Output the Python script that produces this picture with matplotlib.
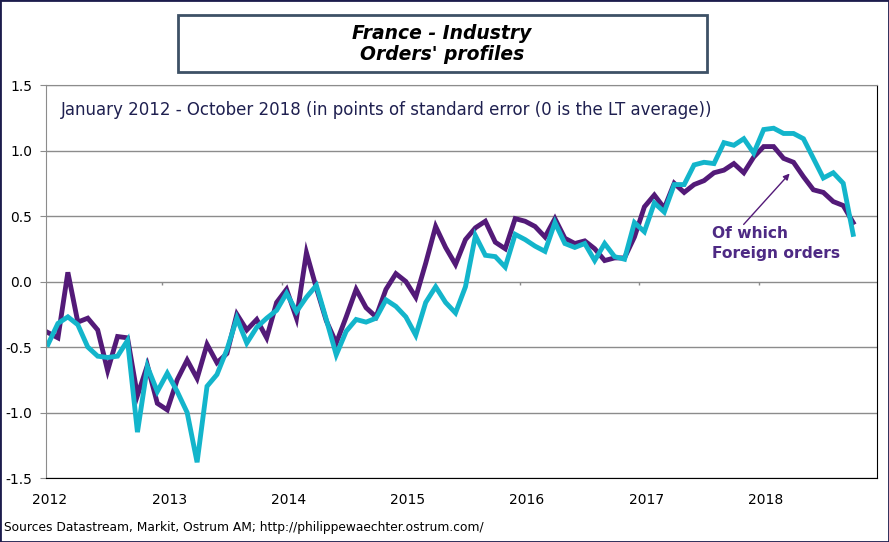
import numpy as np
import matplotlib
matplotlib.use('Agg')
import matplotlib.pyplot as plt
from matplotlib.patches import Rectangle

# monthly values, Jan 2012 - Oct 2018
years = ['2012', '2013', '2014', '2015', '2016', '2017', '2018']
foreign = [-0.39, -0.43, 0.07, -0.31, -0.28, -0.37, -0.68, -0.42, -0.43, -0.87,
           -0.64, -0.93, -0.98, -0.75, -0.60, -0.74, -0.48, -0.62, -0.55, -0.25,
           -0.37, -0.29, -0.43, -0.16, -0.06, -0.28, 0.22, -0.05, -0.30, -0.47,
           -0.27, -0.06, -0.20, -0.27, -0.06, 0.06, 0.00, -0.12, 0.14, 0.42,
           0.26, 0.13, 0.32, 0.41, 0.46, 0.30, 0.25, 0.48, 0.46, 0.42,
           0.34, 0.48, 0.33, 0.29, 0.31, 0.25, 0.16, 0.18, 0.18, 0.34,
           0.57, 0.66, 0.56, 0.75, 0.68, 0.74, 0.77, 0.83, 0.85, 0.90,
           0.83, 0.95, 1.03, 1.03, 0.94, 0.91, 0.80, 0.70, 0.68, 0.61,
           0.58, 0.45]
total = [-0.48, -0.32, -0.27, -0.33, -0.50, -0.57, -0.58, -0.57, -0.45, -1.15,
         -0.65, -0.84, -0.70, -0.84, -1.00, -1.38, -0.80, -0.71, -0.52, -0.28,
         -0.47, -0.35, -0.28, -0.22, -0.09, -0.23, -0.12, -0.03, -0.29, -0.56,
         -0.38, -0.29, -0.31, -0.28, -0.14, -0.19, -0.27, -0.41, -0.16, -0.04,
         -0.16, -0.24, -0.04, 0.35, 0.20, 0.19, 0.11, 0.36, 0.32, 0.27,
         0.23, 0.45, 0.29, 0.26, 0.29, 0.16, 0.29, 0.19, 0.17, 0.45,
         0.38, 0.60, 0.53, 0.74, 0.74, 0.89, 0.91, 0.90, 1.06, 1.04,
         1.09, 0.98, 1.16, 1.17, 1.13, 1.13, 1.09, 0.94, 0.79, 0.83,
         0.75, 0.36]

PURPLE = '#531a78'
TEAL = '#13b5cb'
GRID = '#8c8c8c'

fig = plt.figure(figsize=(8.89, 5.42), dpi=100)
ax = fig.add_axes([46/889, 1 - 478/542, (877 - 46)/889, (478 - 85)/542])

x = np.arange(len(foreign))
ax.plot(x, foreign, color=PURPLE, lw=3.5, solid_joinstyle='miter')
ax.plot(x, total, color=TEAL, lw=3.5, solid_joinstyle='miter')

ax.set_xlim(-0.2, 83.4)
ax.set_ylim(-1.5, 1.5)
ax.set_yticks(np.arange(-1.5, 1.51, 0.5))
ax.set_yticklabels(['%.1f' % v for v in np.arange(-1.5, 1.51, 0.5)])
ax.yaxis.grid(True, color=GRID, lw=1)
ax.set_axisbelow(True)

# year labels at the bottom, ticks on the zero line
ax.set_xticks(np.arange(len(years)) * 12 + 0.2)
ax.set_xticklabels(years)
ax.tick_params(axis='x', length=0, pad=11, labelsize=10)
ax.tick_params(axis='y', length=4, color=GRID, pad=6, labelsize=10)
bounds = np.arange(1, len(years)) * 12 - 0.5
ax.vlines(bounds, -0.03, 0, color=GRID, lw=1)

ax.spines['left'].set_color(GRID)
ax.spines['top'].set_color(GRID)
ax.spines['right'].set_color('black')
ax.spines['bottom'].set_color('black')

ax.text(1.3, 1.31, 'January 2012 - October 2018 (in points of standard error (0 is the LT average))',
        fontsize=12, color='#1f2050', va='center')

ax.annotate('', xy=(74.8, 0.84), xytext=(69.8, 0.42),
            arrowprops=dict(arrowstyle='-|>', color=PURPLE, lw=1, mutation_scale=9))
ax.text(66.8, 0.29, 'Of which\nForeign orders', color='#4e2a84', fontsize=11.2,
        fontweight='bold', va='center', ha='left', linespacing=1.35)

# title box
fig.patches.append(Rectangle((178/889, 1 - 72/542), (707 - 178)/889, (72 - 15)/542,
                             transform=fig.transFigure, fill=False,
                             edgecolor='#3d5166', lw=2))
fig.text(442/889, 1 - 44/542, "France - Industry\nOrders' profiles", ha='center', va='center',
         fontsize=13.5, fontweight='bold', style='italic', linespacing=1.1)

fig.text(4/889, 1 - 527/542, 'Sources Datastream, Markit, Ostrum AM; http://philippewaechter.ostrum.com/',
         fontsize=8.8, va='center')

# outer frame
fig.patches.append(Rectangle((0, 0), 1, 1, transform=fig.transFigure, fill=False,
                             edgecolor='#1c1c4c', lw=2))

fig.savefig('out.png', dpi=100)
